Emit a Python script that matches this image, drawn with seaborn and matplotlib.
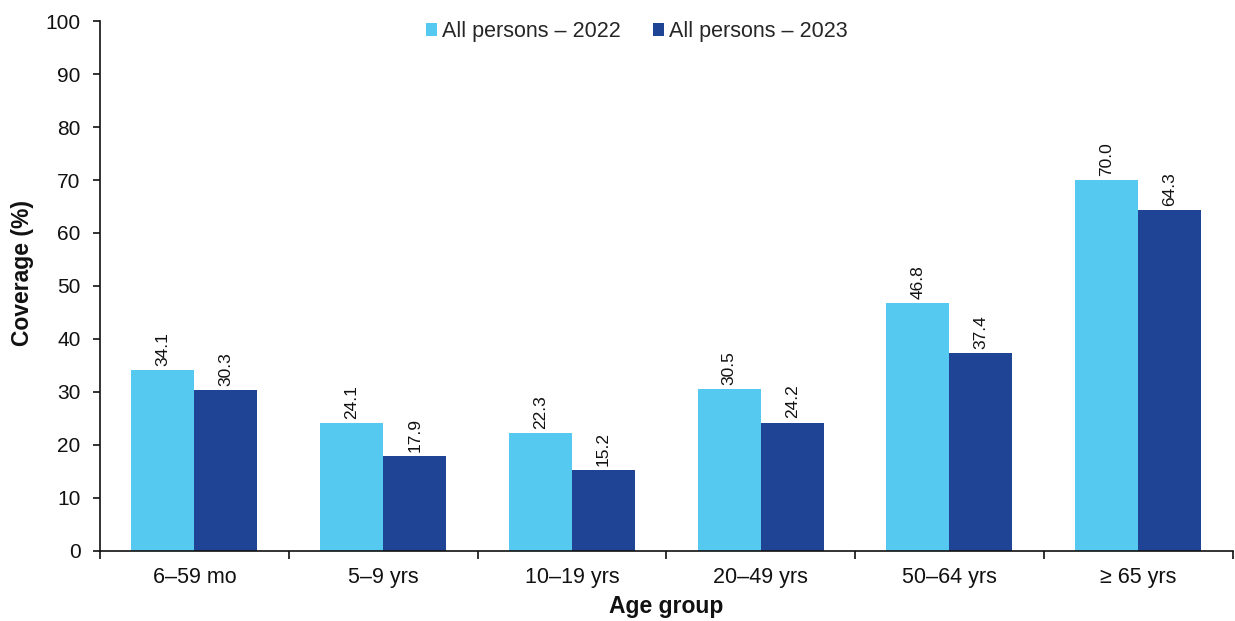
import matplotlib
matplotlib.use("Agg")
import matplotlib.pyplot as plt
import seaborn as sns
import pandas as pd
import numpy as np

# Coverage by age group, two reporting years
age_groups = ["6\u201359 mo", "5\u20139 yrs", "10\u201319 yrs", "20\u201349 yrs", "50\u201364 yrs", "\u2265 65 yrs"]
series_names = ["All persons \u2013 2022", "All persons \u2013 2023"]
coverage_2022 = [34.1, 24.1, 22.3, 30.5, 46.8, 70.0]
coverage_2023 = [30.3, 17.9, 15.2, 24.2, 37.4, 64.3]
y_ticks = [0, 10, 20, 30, 40, 50, 60, 70, 80, 90, 100]

colors = ["#55C9F0", "#1F4496"]

df = pd.DataFrame({
    "Age group": age_groups * 2,
    "Series": [series_names[0]] * len(age_groups) + [series_names[1]] * len(age_groups),
    "Coverage": coverage_2022 + coverage_2023,
})

sns.set_theme(style="white")
plt.rcParams["font.family"] = ["Liberation Sans", "DejaVu Sans"]

fig = plt.figure(figsize=(12.35, 6.21), dpi=100)
ax = fig.add_axes([0.081, 0.113, 0.917, 0.853])

sns.barplot(data=df, x="Age group", y="Coverage", hue="Series",
            order=age_groups, hue_order=series_names,
            palette=colors, width=0.667, saturation=1, errorbar=None,
            linewidth=0, ax=ax)

for container in ax.containers:
    ax.bar_label(container, fmt="%.1f", rotation=90, padding=3, fontsize=12.5, color="#111111")

ax.set_ylim(0, 100)
ax.set_xlim(-0.5, len(age_groups) - 0.5)
ax.set_yticks(y_ticks)
ax.tick_params(axis="y", labelsize=15, length=5, width=1.2, direction="out", left=True, colors="#111111", pad=9)
ax.tick_params(axis="x", which="major", labelsize=15.5, length=0, pad=12, colors="#111111")
ax.set_xticks(np.arange(-0.5, len(age_groups)), minor=True)
ax.tick_params(axis="x", which="minor", length=6, width=1.2, direction="out", bottom=True, color="#111111")

for side in ["top", "right"]:
    ax.spines[side].set_visible(False)
for side in ["left", "bottom"]:
    ax.spines[side].set_color("#111111")
    ax.spines[side].set_linewidth(1.2)

ax.set_ylabel("Coverage (%)", fontsize=16.5, fontweight="bold", color="#111111")
ax.yaxis.set_label_coords(-0.058, 0.524)
ax.set_xlabel("Age group", fontsize=16.5, fontweight="bold", labelpad=5, color="#111111")

handles, labels = ax.get_legend_handles_labels()
ax.legend(handles, labels, loc="center", bbox_to_anchor=(0.474, 0.98), ncol=2,
          frameon=False, fontsize=15.5, handlelength=0.5, handleheight=0.5,
          handletextpad=0.25, columnspacing=1.5, borderpad=0)

fig.savefig("out.png", dpi=100)
